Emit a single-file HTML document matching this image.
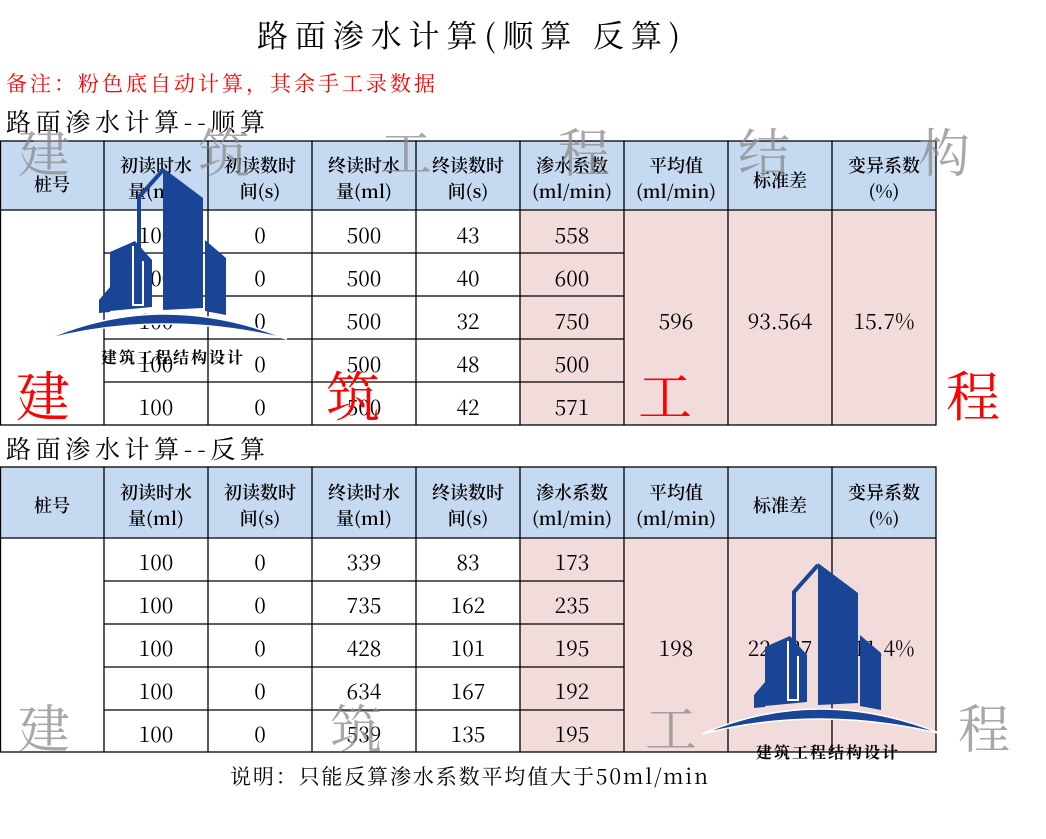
<!DOCTYPE html>
<html><head><meta charset="utf-8"><style>
html,body{margin:0;padding:0;background:#fff;}
svg{display:block;}
.c{font-family:"Noto Serif CJK SC","Liberation Serif",serif;}
</style></head><body>
<svg width="1046" height="839" viewBox="0 0 1046 839" xmlns="http://www.w3.org/2000/svg">
<defs>
<g id="logo">
  <path d="M-8,174 Q108,124 232,174 Q108,144 -8,174 Z" fill="#1a4597" stroke="#fff" stroke-width="1.5"/>
  <polygon points="108,3 148,33 148,143 108,145" fill="#1a4597"/>
  <polyline points="84,140 84,32 108,5" fill="none" stroke="#1a4597" stroke-width="4"/>
  <polygon points="55,87 80,76 97,95 97,142 55,146" fill="#1a4597"/>
  <polyline points="78,81 78,140 88,140 88,96" fill="none" stroke="#fff" stroke-width="2"/>
  <polygon points="44,135 55,122 55,147 44,148" fill="#1a4597"/>
  <polygon points="150,75 171,93 171,150 150,146" fill="#1a4597"/>
  <text x="46" y="198" font-size="16" font-weight="bold" fill="#000" font-family="'Noto Serif CJK SC',serif" letter-spacing="2">建筑工程结构设计</text>
</g>
</defs>
<g class="c">
<text x="257" y="47" font-size="31" fill="#000" textLength="423" lengthAdjust="spacing">路面渗水计算(顺算 反算)</text>
<text x="6" y="91" font-size="21" fill="#f00" textLength="429" lengthAdjust="spacing">备注：粉色底自动计算，其余手工录数据</text>
<text x="6" y="131" font-size="25" fill="#000" textLength="259" lengthAdjust="spacing">路面渗水计算--顺算</text>
<text x="6" y="458" font-size="25" fill="#000" textLength="259" lengthAdjust="spacing">路面渗水计算--反算</text>
</g>
<rect x="0" y="141" width="936" height="69" fill="#c5d9f0"/>
<rect x="520" y="210" width="416" height="215" fill="#f2dcdb"/>
<g stroke="#000" stroke-width="1.3" fill="none">
<rect x="0.5" y="141" width="935.5" height="284"/>
<line x1="0" y1="210" x2="936" y2="210"/>
<line x1="104" y1="253" x2="624" y2="253"/><line x1="104" y1="296" x2="624" y2="296"/><line x1="104" y1="339" x2="624" y2="339"/><line x1="104" y1="382" x2="624" y2="382"/>
<line x1="104" y1="141" x2="104" y2="425"/><line x1="208" y1="141" x2="208" y2="425"/><line x1="312" y1="141" x2="312" y2="425"/><line x1="416" y1="141" x2="416" y2="425"/><line x1="520" y1="141" x2="520" y2="425"/><line x1="624" y1="141" x2="624" y2="425"/><line x1="728" y1="141" x2="728" y2="425"/><line x1="832" y1="141" x2="832" y2="425"/>
</g>
<rect x="0" y="467" width="936" height="71" fill="#c5d9f0"/>
<rect x="520" y="538" width="416" height="214" fill="#f2dcdb"/>
<g stroke="#000" stroke-width="1.3" fill="none">
<rect x="0.5" y="467" width="935.5" height="285"/>
<line x1="0" y1="538" x2="936" y2="538"/>
<line x1="104" y1="581" x2="624" y2="581"/><line x1="104" y1="624" x2="624" y2="624"/><line x1="104" y1="667" x2="624" y2="667"/><line x1="104" y1="710" x2="624" y2="710"/>
<line x1="104" y1="467" x2="104" y2="752"/><line x1="208" y1="467" x2="208" y2="752"/><line x1="312" y1="467" x2="312" y2="752"/><line x1="416" y1="467" x2="416" y2="752"/><line x1="520" y1="467" x2="520" y2="752"/><line x1="624" y1="467" x2="624" y2="752"/><line x1="728" y1="467" x2="728" y2="752"/><line x1="832" y1="467" x2="832" y2="752"/>
</g>
<g class="c" font-size="18" text-anchor="middle" fill="#000" font-weight="600">
<text x="52" y="191">桩号</text>
<text x="156" y="172">初读时水</text><text x="156" y="198">量(ml)</text>
<text x="260" y="172">初读数时</text><text x="260" y="198">间(s)</text>
<text x="364" y="172">终读时水</text><text x="364" y="198">量(ml)</text>
<text x="468" y="172">终读数时</text><text x="468" y="198">间(s)</text>
<text x="572" y="172">渗水系数</text><text x="572" y="198">(ml/min)</text>
<text x="676" y="172">平均值</text><text x="676" y="198">(ml/min)</text>
<text x="780" y="187">标准差</text>
<text x="884" y="172">变异系数</text><text x="884" y="198">(%)</text>
<text x="52" y="512">桩号</text>
<text x="156" y="499">初读时水</text><text x="156" y="525">量(ml)</text>
<text x="260" y="499">初读数时</text><text x="260" y="525">间(s)</text>
<text x="364" y="499">终读时水</text><text x="364" y="525">量(ml)</text>
<text x="468" y="499">终读数时</text><text x="468" y="525">间(s)</text>
<text x="572" y="499">渗水系数</text><text x="572" y="525">(ml/min)</text>
<text x="676" y="499">平均值</text><text x="676" y="525">(ml/min)</text>
<text x="780" y="512">标准差</text>
<text x="884" y="499">变异系数</text><text x="884" y="525">(%)</text>
</g>
<g class="c" font-size="21" text-anchor="middle" fill="#000">
<text x="156" y="243">100</text><text x="260" y="243">0</text><text x="364" y="243">500</text><text x="468" y="243">43</text><text x="572" y="243">558</text>
<text x="156" y="286">100</text><text x="260" y="286">0</text><text x="364" y="286">500</text><text x="468" y="286">40</text><text x="572" y="286">600</text>
<text x="156" y="329">100</text><text x="260" y="329">0</text><text x="364" y="329">500</text><text x="468" y="329">32</text><text x="572" y="329">750</text>
<text x="156" y="372">100</text><text x="260" y="372">0</text><text x="364" y="372">500</text><text x="468" y="372">48</text><text x="572" y="372">500</text>
<text x="156" y="415">100</text><text x="260" y="415">0</text><text x="364" y="415">500</text><text x="468" y="415">42</text><text x="572" y="415">571</text>
<text x="676" y="329">596</text><text x="780" y="329">93.564</text><text x="884" y="329">15.7%</text>
<text x="156" y="570">100</text><text x="260" y="570">0</text><text x="364" y="570">339</text><text x="468" y="570">83</text><text x="572" y="570">173</text>
<text x="156" y="613">100</text><text x="260" y="613">0</text><text x="364" y="613">735</text><text x="468" y="613">162</text><text x="572" y="613">235</text>
<text x="156" y="656">100</text><text x="260" y="656">0</text><text x="364" y="656">428</text><text x="468" y="656">101</text><text x="572" y="656">195</text>
<text x="156" y="699">100</text><text x="260" y="699">0</text><text x="364" y="699">634</text><text x="468" y="699">167</text><text x="572" y="699">192</text>
<text x="156" y="742">100</text><text x="260" y="742">0</text><text x="364" y="742">539</text><text x="468" y="742">135</text><text x="572" y="742">195</text>
<text x="676" y="656">198</text><text x="780" y="656">22.327</text><text x="884" y="656">11.4%</text>
</g>
<text x="230" y="784" class="c" font-size="21" fill="#000" textLength="478" lengthAdjust="spacing">说明：只能反算渗水系数平均值大于50ml/min</text>
<g font-family="'Noto Serif CJK SC',serif" font-size="52" fill="#8a8a8a" fill-opacity="0.75">
<text x="18" y="172">建</text><text x="198" y="172">筑</text><text x="380" y="172">工</text><text x="558" y="172">程</text><text x="738" y="172">结</text><text x="918" y="172">构</text>
<text x="18" y="748">建</text><text x="330" y="748">筑</text><text x="645" y="748">工</text><text x="958" y="748">程</text>
</g>
<g font-family="'Noto Serif CJK SC',serif" font-size="54" fill="#f00">
<text x="16" y="416">建</text><text x="326" y="416">筑</text><text x="638" y="416">工</text><text x="946" y="416">程</text>
</g>
<use href="#logo" transform="translate(55,165)"/>
<use href="#logo" transform="translate(710,560)"/>
</svg>
</body></html>
